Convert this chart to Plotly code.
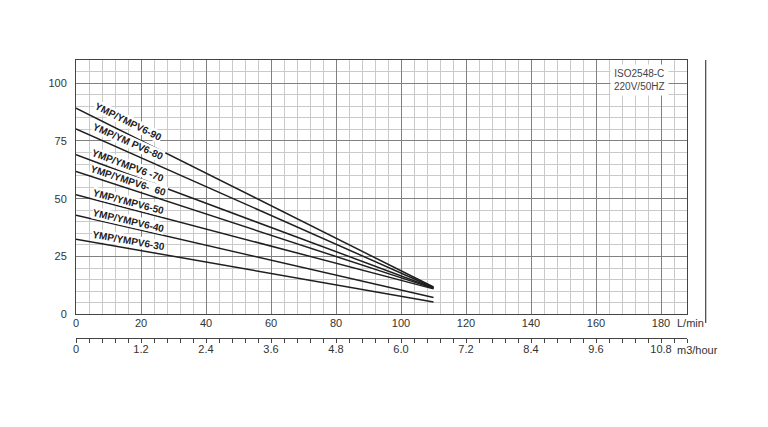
import math
import plotly.graph_objects as go

# ---------------- data ----------------
flow_lmin = [0, 110]
models = ["YMP/YMPV6-90", "YMP/YM PV6-80", "YMP/YMPV6 -70", "YMP/YMPV6-  60",
          "YMP/YMPV6-50", "YMP/YMPV6-40", "YMP/YMPV6-30"]
head_90 = [89.2, 11.8]
head_80 = [80.2, 11.6]
head_70 = [69.0, 11.4]
head_60 = [61.8, 11.2]
head_50 = [51.7, 11.0]
head_40 = [42.8, 7.3]
head_30 = [32.5, 5.3]
heads = [head_90, head_80, head_70, head_60, head_50, head_40, head_30]

x_ticks = [0, 20, 40, 60, 80, 100, 120, 140, 160, 180]
y_ticks = [0, 25, 50, 75, 100]
m3h_ticks = [0, 1.2, 2.4, 3.6, 4.8, 6.0, 7.2, 8.4, 9.6, 10.8]
m3h_labels = ["0", "1.2", "2.4", "3.6", "4.8", "6.0", "7.2", "8.4", "9.6", "10.8"]

# label offsets above each curve (px)
label_shift = [13, 10, 9, 8, 7, 7, 8]

# ---------------- layout geometry (page px, page body has 8px margin) ----------------
OFF = 8
W, H = 768 - OFF, 427 - OFF
P_LEFT, P_RIGHT, P_TOP, P_BOT = 76, 687.3, 60, 314.3   # plot area in page px
ML, MT = P_LEFT - OFF, 40
MR = W - (P_RIGHT - OFF)
MB = 60
plot_h = H - MT - MB
XMAX, YMAX = 188, 110


def py_paper(page_y):
    return (H - MB - (page_y - OFF)) / plot_h


ydom0 = py_paper(P_BOT)
ydom1 = py_paper(P_TOP)
px_per_x = (P_RIGHT - P_LEFT) / XMAX
px_per_y = (P_BOT - P_TOP) / YMAX

fig = go.Figure()
line_col = "#1e1e1e"
for name, h in zip(models, heads):
    fig.add_trace(go.Scatter(x=flow_lmin, y=h, mode="lines",
                             line=dict(color=line_col, width=1.5),
                             name=name, showlegend=False, hoverinfo="skip"))

# invisible trace for the m3/hour axis
fig.add_trace(go.Scatter(x=[0, XMAX * 0.06], y=[None, None], xaxis="x2",
                         mode="lines", showlegend=False, hoverinfo="skip"))

lab_font = dict(family="Liberation Sans, Arial, sans-serif", size=10,
                color="#222", weight="bold")
lx = 16
for name, h, sh in zip(models, heads, label_shift):
    slope = (h[0] - h[1]) / (flow_lmin[1] - flow_lmin[0])
    yv = h[0] - slope * (lx - flow_lmin[0])
    ang = math.degrees(math.atan(slope * px_per_y / px_per_x))
    fig.add_annotation(x=lx, y=yv, xref="x", yref="y", text=name,
                       showarrow=False, textangle=ang, yshift=sh,
                       xanchor="center", yanchor="middle",
                       font=lab_font, bgcolor="white", borderpad=0)

tick_font = dict(family="Liberation Sans, Arial, sans-serif", size=11, color="#333")

fig.add_annotation(x=(640 - P_LEFT) / px_per_x, y=(P_BOT - 80) / px_per_y,
                   xref="x", yref="y",
                   text="ISO2548-C<br>220V/50HZ", showarrow=False,
                   font=dict(family="Liberation Sans, Arial, sans-serif", size=10, color="#444"),
                   bgcolor="white", borderpad=3, align="center")

fig.add_annotation(x=(675 - P_LEFT) / px_per_x, xref="x", y=py_paper(323),
                   yref="paper", text="L/min", showarrow=False,
                   xanchor="left", yanchor="middle", font=tick_font)
fig.add_annotation(x=(675 - P_LEFT) / px_per_x, xref="x", y=py_paper(350),
                   yref="paper", text="m3/hour", showarrow=False,
                   xanchor="left", yanchor="middle", font=tick_font)

# right vertical rule
xr = (706 - P_LEFT) / (P_RIGHT - P_LEFT)
fig.add_shape(type="line", xref="paper", yref="paper",
              x0=xr, x1=xr, y0=py_paper(323), y1=ydom1,
              line=dict(color="#444", width=1.2))

fig.update_layout(
    width=W, height=H, margin=dict(l=ML, r=MR, t=MT, b=MB),
    paper_bgcolor="white", plot_bgcolor="white",
    xaxis=dict(range=[0, XMAX], tickvals=x_ticks, showgrid=True,
               gridcolor="#808080", gridwidth=1, zeroline=False,
               showline=True, linecolor="#444", linewidth=1, mirror=True,
               ticks="", tickfont=tick_font, anchor="y", ticklabelstandoff=-2,
               minor=dict(dtick=4, tick0=0, showgrid=True, gridcolor="#cacaca", gridwidth=1)),
    yaxis=dict(range=[0, YMAX], tickvals=y_ticks, showgrid=True, domain=[ydom0, ydom1],
               gridcolor="#808080", gridwidth=1, zeroline=False,
               showline=True, linecolor="#444", linewidth=1, mirror=True,
               ticks="", tickfont=tick_font, ticklabelstandoff=6,
               minor=dict(dtick=5, tick0=0, showgrid=True, gridcolor="#cacaca", gridwidth=1)),
    xaxis2=dict(range=[0, XMAX * 0.06], overlaying="x", anchor="free",
                position=py_paper(337.7), side="bottom",
                showgrid=False, zeroline=False, showline=True, linecolor="#444",
                linewidth=1, ticks="outside", ticklen=4, tickcolor="#444",
                ticklabelstandoff=-3,
                tickvals=m3h_ticks, ticktext=m3h_labels, tickfont=tick_font,
                minor=dict(dtick=0.24, tick0=0, ticks="outside", ticklen=4,
                           tickcolor="#444", showgrid=False)),
)

fig.write_html("out.html")
